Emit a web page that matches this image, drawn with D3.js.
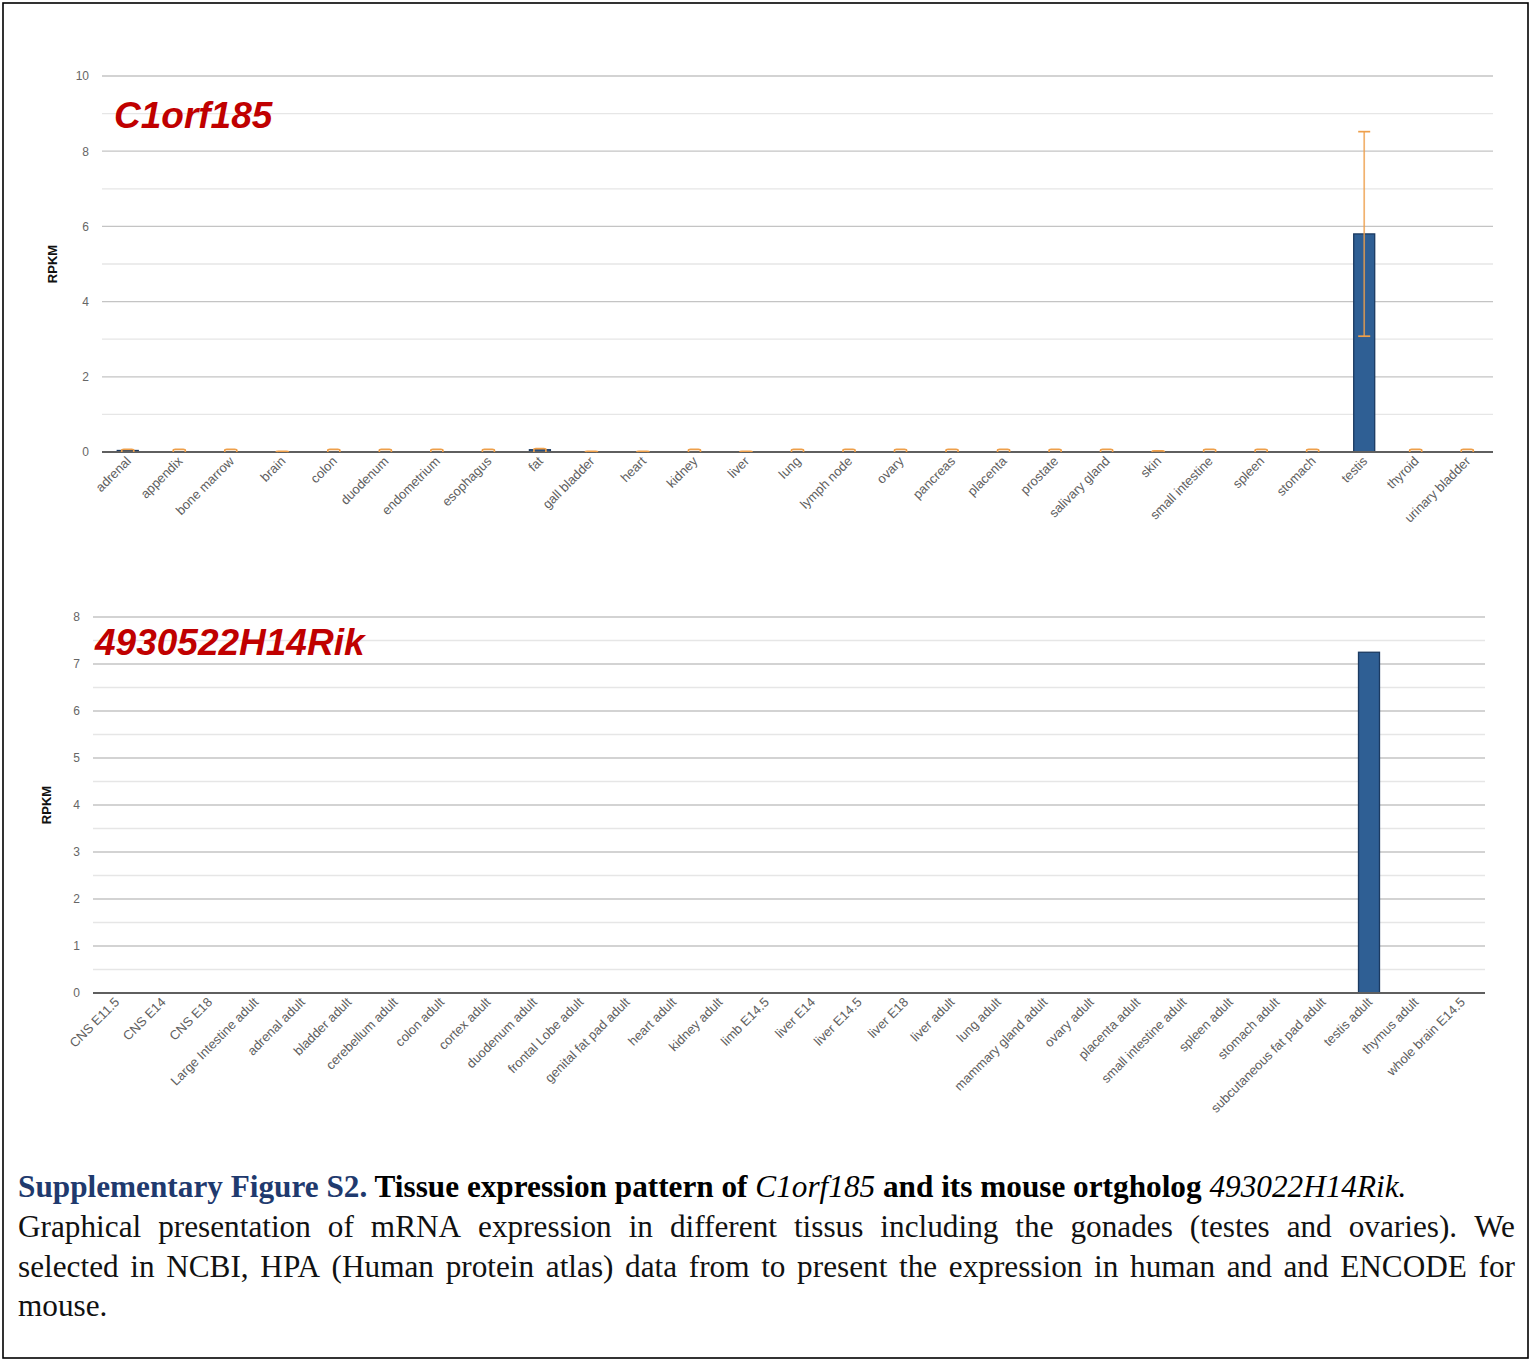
<!DOCTYPE html>
<html><head><meta charset="utf-8">
<script src="https://cdn.jsdelivr.net/npm/d3@7"></script>
<style>body{margin:0;background:#fff}svg{display:block}</style>
</head><body>
<script>
// ---------- DATA ----------
const humanTitle = "C1orf185";
const humanTissues = ["adrenal","appendix","bone marrow","brain","colon","duodenum","endometrium","esophagus","fat","gall bladder","heart","kidney","liver","lung","lymph node","ovary","pancreas","placenta","prostate","salivary gland","skin","small intestine","spleen","stomach","testis","thyroid","urinary bladder"];
const humanRPKM = [0.04,0.01,0.01,0.01,0.01,0.01,0.01,0.01,0.06,0.01,0.01,0.01,0.01,0.01,0.01,0.01,0.01,0.01,0.01,0.01,0.02,0.01,0.01,0.01,5.8,0.01,0.01];
const humanErr  = [0.03,0.06,0.06,0.01,0.06,0.06,0.06,0.06,0.03,0.01,0.01,0.06,0.01,0.06,0.06,0.06,0.06,0.06,0.06,0.06,0.01,0.06,0.06,0.06,2.72,0.06,0.06];
const humanTicks = [0,2,4,6,8,10];

const mouseTitle = "4930522H14Rik";
const mouseTissues = ["CNS E11.5","CNS E14","CNS E18","Large Intestine adult","adrenal adult","bladder adult","cerebellum adult","colon adult","cortex adult","duodenum adult","frontal Lobe adult","genital fat pad adult","heart adult","kidney adult","limb E14.5","liver E14","liver E14.5","liver E18","liver adult","lung adult","mammary gland adult","ovary adult","placenta adult","small intestine adult","spleen adult","stomach adult","subcutaneous fat pad adult","testis adult","thymus adult","whole brain E14.5"];
const mouseRPKM = [0,0,0,0,0,0,0,0,0,0,0,0,0,0,0,0,0,0,0,0,0,0,0,0,0,0,0,7.25,0,0];
const mouseTicks = [0,1,2,3,4,5,6,7,8];

const yLabel = "RPKM";
const captionHead = [
  {t:"Supplementary Figure S2.", w:"bold", s:"normal", c:"#1f3a6e"},
  {t:" Tissue expression pattern of ", w:"bold", s:"normal", c:"#000"},
  {t:"C1orf185", w:"normal", s:"italic", c:"#000"},
  {t:" and its mouse ortgholog ", w:"bold", s:"normal", c:"#000"},
  {t:"493022H14Rik.", w:"normal", s:"italic", c:"#000"}
];
const captionBody = [
  "Graphical presentation of mRNA expression in different tissus including the gonades (testes and ovaries). We",
  "selected in NCBI, HPA (Human protein atlas) data from to present the expression in human and and ENCODE for",
  "mouse."
];

// ---------- DRAW ----------
const W = 1531, H = 1361;
const svg = d3.select("body").append("svg").attr("width", W).attr("height", H);
svg.append("rect").attr("width", W).attr("height", H).attr("fill", "#fff");
svg.append("rect").attr("x", 3).attr("y", 3).attr("width", 1525).attr("height", 1355)
  .attr("fill", "none").attr("stroke", "#000").attr("stroke-width", 1.6);

function drawChart(cfg) {
  const g = svg.append("g");
  const x = d3.scaleBand().domain(cfg.cats).range([cfg.x0, cfg.x1]).padding(0);
  const y = d3.scaleLinear().domain([0, cfg.max]).range([cfg.yBase, cfg.yTop]);
  const grid = d3.range(0, cfg.max + cfg.minor / 2, cfg.minor).filter(v => v > 0);
  g.selectAll("line.grid").data(grid).join("line")
    .attr("x1", cfg.x0).attr("x2", cfg.x1)
    .attr("y1", d => y(d)).attr("y2", d => y(d))
    .attr("stroke", d => (Math.abs(d / cfg.major - Math.round(d / cfg.major)) < 1e-6) ? "#c4c4c4" : "#e6e6e6")
    .attr("stroke-width", 1.3);
  const ax = d3.axisLeft(y).tickValues(cfg.ticks).tickSize(0).tickPadding(0).tickFormat(d3.format("d"));
  const ag = g.append("g").attr("transform", `translate(${cfg.x0 - 13},0)`).call(ax);
  ag.select(".domain").remove();
  ag.selectAll("text").attr("font-family", "Arial, 'Liberation Sans', sans-serif")
    .attr("font-size", 12).attr("fill", "#666");
  g.append("text").attr("x", cfg.titleX).attr("y", cfg.titleY).text(cfg.title)
    .attr("font-family", "Arial, 'Liberation Sans', sans-serif").attr("font-weight", "bold")
    .attr("font-style", "italic").attr("font-size", 37).attr("fill", "#c00000");
  g.append("text").attr("transform", `translate(${cfg.ylabX},${(cfg.yBase + cfg.yTop) / 2}) rotate(-90)`)
    .attr("text-anchor", "middle").text(yLabel)
    .attr("font-family", "Arial, 'Liberation Sans', sans-serif").attr("font-weight", "bold")
    .attr("font-size", 13).attr("fill", "#111");
  const bw = 21;
  const data = cfg.cats.map((c, i) => ({c, v: cfg.vals[i], e: cfg.errs ? cfg.errs[i] : null}));
  g.selectAll("rect.bar").data(data.filter(d => d.v > 0)).join("rect")
    .attr("x", d => x(d.c) + x.bandwidth() / 2 - bw / 2)
    .attr("width", bw)
    .attr("y", d => y(d.v))
    .attr("height", d => y(0) - y(d.v))
    .attr("fill", "#2f5f94")
    .attr("stroke", d => (y(0) - y(d.v)) > 1.5 ? "#1b3a61" : "none").attr("stroke-width", 1.3);
  g.append("line").attr("x1", cfg.x0).attr("x2", cfg.x1).attr("y1", y(0)).attr("y2", y(0))
    .attr("stroke", "#5f5f5f").attr("stroke-width", 2);
  if (cfg.errs) {
    const eg = g.selectAll("g.err").data(data).join("g").attr("stroke", "#ee9f4a").attr("stroke-width", 1.7).attr("fill", "none");
    const cx = d => x(d.c) + x.bandwidth() / 2;
    eg.filter(d => d.v >= 1).append("line").attr("x1", cx).attr("x2", cx)
      .attr("y1", d => y(d.v + d.e)).attr("y2", d => y(d.v - d.e)).attr("stroke-opacity", 0.8);
    eg.filter(d => d.v >= 1).append("line").attr("x1", d => cx(d) - 6).attr("x2", d => cx(d) + 6)
      .attr("y1", d => y(d.v + d.e)).attr("y2", d => y(d.v + d.e));
    eg.filter(d => d.v >= 1).append("line").attr("x1", d => cx(d) - 6).attr("x2", d => cx(d) + 6)
      .attr("y1", d => y(d.v - d.e)).attr("y2", d => y(d.v - d.e));
    // near-zero values: tiny error whisker seen as a small arc on the axis
    eg.filter(d => d.v < 1).append("path")
      .attr("d", d => {
        const c = cx(d), top = y(d.v + d.e), b = y(0);
        return `M${c - 6},${b} L${c - 6},${Math.min(b - 0.5, top + 1)} Q${c - 6},${top} ${c - 4},${top} L${c + 4},${top} Q${c + 6},${top} ${c + 6},${Math.min(b - 0.5, top + 1)} L${c + 6},${b}`;
      });
  }
  g.selectAll("text.xl").data(cfg.cats).join("text")
    .attr("transform", d => `translate(${x(d) + x.bandwidth() / 2 + 4},${cfg.yBase + 10}) rotate(-45)`)
    .attr("text-anchor", "end").text(d => d)
    .attr("font-family", "Arial, 'Liberation Sans', sans-serif").attr("font-size", 13).attr("fill", "#606060");
}

drawChart({cats: humanTissues, vals: humanRPKM, errs: humanErr, ticks: humanTicks, max: 10, minor: 1, major: 2,
  x0: 102, x1: 1493, yBase: 452, yTop: 76, title: humanTitle, titleX: 114, titleY: 128, ylabX: 57});
drawChart({cats: mouseTissues, vals: mouseRPKM, errs: null, ticks: mouseTicks, max: 8, minor: 0.5, major: 1,
  x0: 93, x1: 1485, yBase: 993, yTop: 617, title: mouseTitle, titleX: 95, titleY: 655, ylabX: 51});

// ---------- CAPTION ----------
const capFont = "'Liberation Serif', 'Times New Roman', serif";
let fs = 28;
const head = svg.append("text").attr("x", 18).attr("y", 1197).attr("font-family", capFont).attr("font-size", fs)
  .attr("xml:space", "preserve");
head.selectAll("tspan").data(captionHead).join("tspan")
  .text(d => d.t).attr("font-weight", d => d.w).attr("font-style", d => d.s).attr("fill", d => d.c)
  .style("white-space", "pre");
const L = head.node().getComputedTextLength();
fs = Math.max(25, Math.min(32, fs * 1389 / L));
head.attr("font-size", fs);

const baselines = [1237, 1277, 1316];
captionBody.forEach((line, li) => {
  const words = line.split(" ");
  const justify = li < captionBody.length - 1;
  const els = words.map(w => svg.append("text").attr("y", baselines[li]).attr("font-family", capFont)
    .attr("font-size", fs).attr("fill", "#111").text(w));
  const widths = els.map(e => e.node().getComputedTextLength());
  const total = d3.sum(widths);
  const gap = justify ? (1515 - 18 - total) / (words.length - 1) : fs * 0.25;
  let cx = 18;
  els.forEach((e, i) => { e.attr("x", cx); cx += widths[i] + gap; });
});
</script>
</body></html>
